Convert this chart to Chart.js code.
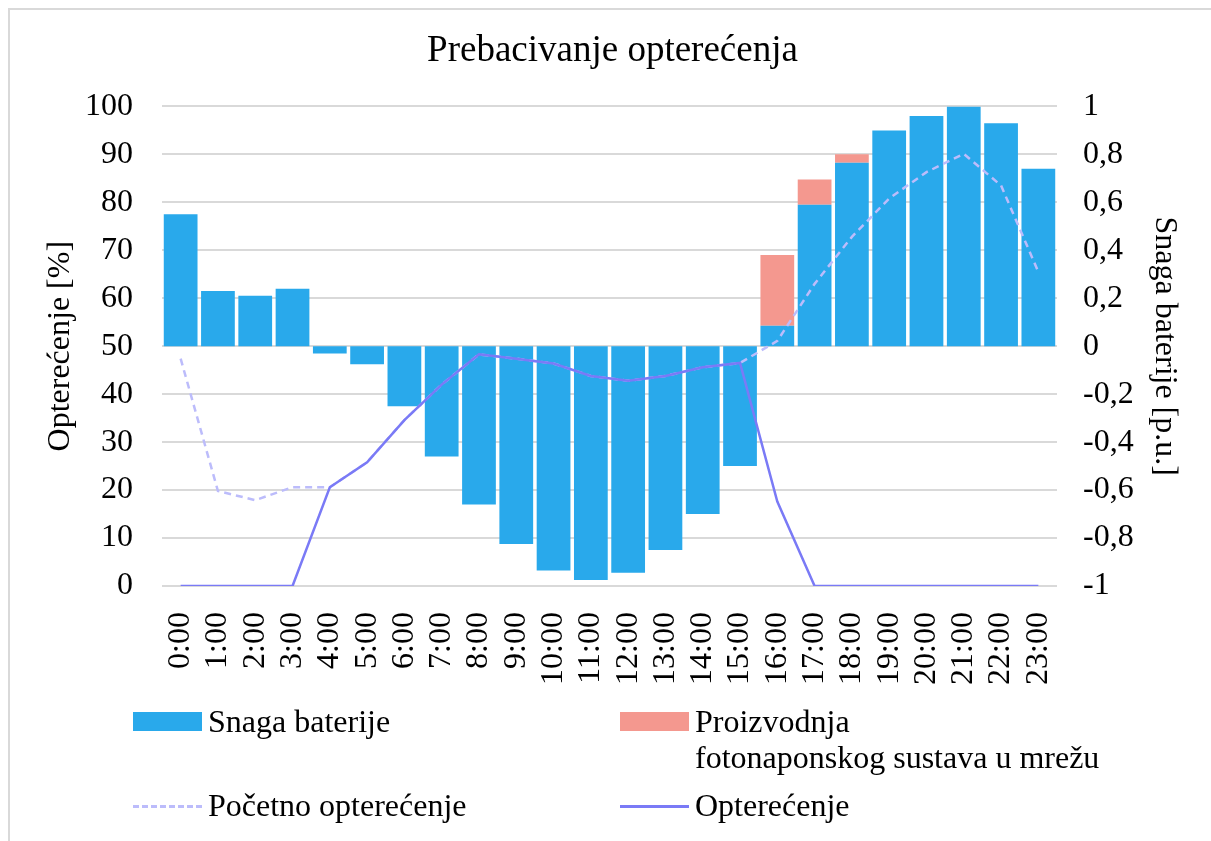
<!DOCTYPE html>
<html>
<head>
<meta charset="utf-8">
<script src="https://cdn.jsdelivr.net/npm/chart.js@4/dist/chart.umd.min.js"></script>
<style>
  html, body { margin: 0; background: #fff; overflow: hidden; font-family: "Liberation Serif", serif; }
  #wrap { position: relative; width: 1211px; height: 841px; overflow: hidden; }
  #frame { position: absolute; left: 8px; top: 8px; width: 1400px; height: 1000px;
           border-left: 2px solid #d9d9d9; border-top: 2px solid #d9d9d9; }
  #chart { position: absolute; left: 0; top: 0; }
  .leg { position: absolute; font-size: 32px; line-height: 36px; color: #000; white-space: nowrap; }
  .box { position: absolute; width: 69px; height: 19px; }
  .ln { position: absolute; width: 69px; }
</style>
</head>
<body>
<div id="wrap">
  <div id="frame"></div>
  <canvas id="chart" width="1211" height="841"></canvas>
  <div id="legend"></div>
</div>
<script>
// DATA
const hours = ["0:00","1:00","2:00","3:00","4:00","5:00","6:00","7:00","8:00","9:00","10:00","11:00",
  "12:00","13:00","14:00","15:00","16:00","17:00","18:00","19:00","20:00","21:00","22:00","23:00"];

// battery power [p.u.] (right axis)
const batteryPower = [0.55, 0.23, 0.21, 0.24, -0.03, -0.075, -0.25, -0.46, -0.66, -0.825, -0.935, -0.975,
  -0.945, -0.85, -0.70, -0.50, 0.085, 0.59, 0.765, 0.90, 0.96, 1.0, 0.93, 0.74];

// PV production to grid [p.u.] (right axis, stacked on battery)
const pvToGrid = [0, 0, 0, 0, 0, 0, 0, 0, 0, 0, 0, 0,
  0, 0, 0, 0, 0.295, 0.105, 0.035, 0, 0, 0, 0, 0];

// load [%] (left axis)
const initialLoad = [47.4, 19.8, 17.9, 20.6, 20.6, 25.8, 34.6, 42, 48.3, 47.4, 46.4, 43.8,
  42.8, 43.8, 45.6, 46.5, 51.1, 63, 72.8, 80.8, 86.3, 90.1, 83.5, 65.5];
const load = [0, 0, 0, 0, 20.6, 25.8, 34.6, 42, 48.3, 47.4, 46.4, 43.8,
  42.8, 43.8, 45.6, 46.5, 17.6, 0, 0, 0, 0, 0, 0, 0];

const labelNames = ["Snaga baterije", "Proizvodnja fotonaponskog sustava u mrežu", "Početno opterećenje", "Opterećenje"];
const colors = ["#29a9eb", "#f4988f", "#bcbcfb", "#7a7af6"];

const font = "'Liberation Serif', serif";

// CHART
new Chart("chart", {
  type: "bar",
  data: {
    labels: hours,
    datasets: [
      {
        type: "line", label: labelNames[3], data: load, yAxisID: "y",
        borderColor: colors[3], borderWidth: 2.5, pointRadius: 0, order: 0
      },
      {
        type: "line", label: labelNames[2], data: initialLoad, yAxisID: "y",
        borderColor: colors[2], borderWidth: 2.5, borderDash: [7, 5], pointRadius: 0, order: 1
      },
      {
        label: labelNames[0], data: batteryPower, yAxisID: "y1",
        backgroundColor: colors[0], categoryPercentage: 1, barPercentage: 0.905, order: 2
      },
      {
        label: labelNames[1], data: pvToGrid, yAxisID: "y1",
        backgroundColor: colors[1], categoryPercentage: 1, barPercentage: 0.905, order: 2
      }
    ]
  },
  options: {
    responsive: false,
    animation: false,
    layout: { padding: { top: 10, left: 37, right: 23, bottom: 155 } },
    plugins: {
      legend: { display: false },
      tooltip: { enabled: false },
      title: {
        display: true,
        text: "Prebacivanje opterećenja",
        color: "#000",
        font: { family: font, size: 37, weight: "normal" },
        padding: { top: 19, bottom: 33 }
      }
    },
    scales: {
      x: {
        stacked: true,
        grid: { display: false },
        border: { display: false },
        ticks: {
          color: "#000", font: { family: font, size: 32 },
          autoSkip: false, maxRotation: 90, minRotation: 90, padding: 18
        },
        afterFit: (scale) => { scale.height = 100; }
      },
      y: {
        position: "left",
        min: 0, max: 100,
        grid: { color: "#d9d9d9", lineWidth: 2, drawTicks: false },
        border: { display: false },
        ticks: { stepSize: 10, color: "#000", font: { family: font, size: 32 }, padding: 29 },
        title: { display: true, text: "Opterećenje [%]", color: "#000", font: { family: font, size: 32 } },
        afterFit: (scale) => { scale.width = 125; }
      },
      y1: {
        position: "right",
        stacked: true,
        min: -1, max: 1,
        grid: { display: false, drawTicks: false },
        border: { display: false },
        ticks: {
          stepSize: 0.2, color: "#000", font: { family: font, size: 32 }, padding: 26,
          callback: (v) => String(Math.round(v * 10) / 10).replace(".", ",")
        },
        title: { display: true, text: "Snaga baterije [p.u.]", color: "#000", font: { family: font, size: 32 } },
        afterFit: (scale) => { scale.width = 131; }
      }
    }
  }
});

// LEGEND (two columns, like the original)
const legend = document.getElementById("legend");
const items = [
  { kind: "box", color: colors[0], x: 133, y: 722, text: labelNames[0] },
  { kind: "box", color: colors[1], x: 620, y: 722, text: "Proizvodnja<br>fotonaponskog sustava u mrežu" },
  { kind: "dash", color: colors[2], x: 133, y: 806, text: labelNames[2] },
  { kind: "line", color: colors[3], x: 620, y: 806, text: labelNames[3] }
];
items.forEach(it => {
  let mark = document.createElement("div");
  if (it.kind === "box") {
    mark.className = "box";
    mark.style.left = it.x + "px";
    mark.style.top = (it.y - 10) + "px";
    mark.style.background = it.color;
  } else {
    mark.className = "ln";
    mark.style.left = it.x + "px";
    mark.style.top = (it.y - 1) + "px";
    mark.style.height = "3px";
    mark.style.background = it.kind === "dash"
      ? "repeating-linear-gradient(90deg, " + it.color + " 0 6px, transparent 6px 9px)"
      : it.color;
  }
  legend.appendChild(mark);
  let txt = document.createElement("div");
  txt.className = "leg";
  txt.style.left = (it.x + 75) + "px";
  txt.style.top = (it.y - 19) + "px";
  txt.innerHTML = it.text;
  legend.appendChild(txt);
});
</script>
</body>
</html>
